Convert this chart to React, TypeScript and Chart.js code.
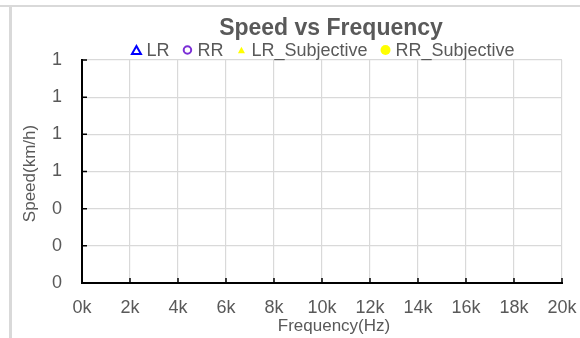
import React, { useEffect, useRef } from "react";
import { Chart, registerables } from "chart.js";

Chart.register(...registerables);

// Axis ranges and tick spacing
const frequencyMin = 0;
const frequencyMax = 20000;
const frequencyStep = 2000;
const speedMin = 0;
const speedMax = 1.2;
const speedStep = 0.2;

// Text
const chartTitle = "Speed vs Frequency";
const xAxisTitle = "Frequency(Hz)";
const yAxisTitle = "Speed(km/h)";

// Series (no measured points recorded yet)
const seriesNames = ["LR", "RR", "LR_Subjective", "RR_Subjective"];
const lrPoints: { x: number; y: number }[] = [];
const rrPoints: { x: number; y: number }[] = [];
const lrSubjectivePoints: { x: number; y: number }[] = [];
const rrSubjectivePoints: { x: number; y: number }[] = [];

const FONT = "'Liberation Sans', Arial, sans-serif";
const TEXT = "#595959";
const GRID = "#d9d9d9";
const TEXT_CENTER_X = 331;

function drawMarker(
  ctx: CanvasRenderingContext2D,
  style: string,
  cx: number,
  cy: number,
  size: number,
  fill: string,
  stroke: string,
  lineWidth: number,
  filled: boolean
) {
  ctx.beginPath();
  if (style === "triangle") {
    const h = size * 0.9;
    ctx.moveTo(cx, cy - h / 2);
    ctx.lineTo(cx + size / 2, cy + h / 2);
    ctx.lineTo(cx - size / 2, cy + h / 2);
    ctx.closePath();
  } else {
    ctx.arc(cx, cy, size / 2, 0, Math.PI * 2);
  }
  if (filled) {
    ctx.fillStyle = fill;
    ctx.fill();
  } else {
    ctx.lineWidth = lineWidth;
    ctx.strokeStyle = stroke;
    ctx.stroke();
  }
}

// Title, legend and axis titles
const chartTextPlugin = {
  id: "chartText",
  afterDraw(chart: any) {
    const { ctx, chartArea } = chart;
    ctx.save();
    ctx.fillStyle = TEXT;
    ctx.textBaseline = "alphabetic";

    // chart title
    ctx.font = `bold 23px ${FONT}`;
    ctx.textAlign = "center";
    ctx.fillText(chartTitle, TEXT_CENTER_X, 35);

    // legend
    ctx.font = `18px ${FONT}`;
    ctx.textAlign = "left";
    const datasets = chart.data.datasets;
    const markerToText = 10;
    const itemGap = 18;
    const widths = datasets.map((d: any) => ctx.measureText(d.label).width);
    let total = 0;
    widths.forEach((w: number, i: number) => {
      total += 5 + markerToText + w + (i < widths.length - 1 ? itemGap : 0);
    });
    let x = TEXT_CENTER_X - total / 2;
    datasets.forEach((d: any, i: number) => {
      const mx = x + 4.5;
      drawMarker(
        ctx,
        d.pointStyle,
        mx,
        50,
        d.legendMarkerSize,
        d.pointBackgroundColor,
        d.pointBorderColor,
        2,
        d.legendFilled
      );
      ctx.fillStyle = TEXT;
      ctx.fillText(d.label, mx + markerToText, 56);
      x = mx + markerToText + widths[i] + itemGap - 4.5;
    });

    // x axis title
    ctx.font = `17px ${FONT}`;
    ctx.textAlign = "center";
    ctx.fillText(xAxisTitle, (chartArea.left + chartArea.right) / 2 + 12, 331);

    // y axis title
    ctx.font = `17px ${FONT}`;
    ctx.translate(35, (chartArea.top + chartArea.bottom) / 2 + 2);
    ctx.rotate(-Math.PI / 2);
    ctx.textAlign = "center";
    ctx.fillText(yAxisTitle, 0, 0);
    ctx.restore();
  },
};

// Black axis lines with short ticks pointing into the plot
const innerAxisPlugin = {
  id: "innerAxis",
  afterDatasetsDraw(chart: any) {
    const { ctx, chartArea } = chart;
    const { left, right, top, bottom } = chartArea;
    const xs = chart.scales.x;
    const ys = chart.scales.y;
    const tick = 5;
    ctx.save();
    ctx.strokeStyle = "#000";
    ctx.lineWidth = 2;
    ctx.beginPath();
    ctx.moveTo(left, top - 1);
    ctx.lineTo(left, bottom);
    ctx.lineTo(right + 1, bottom);
    ctx.stroke();
    ctx.lineWidth = 1.5;
    ctx.beginPath();
    xs.ticks.forEach((t: any) => {
      const px = xs.getPixelForValue(t.value);
      ctx.moveTo(px, bottom);
      ctx.lineTo(px, bottom - tick);
    });
    ys.ticks.forEach((t: any) => {
      const py = ys.getPixelForValue(t.value);
      ctx.moveTo(left, py);
      ctx.lineTo(left + tick, py);
    });
    ctx.stroke();
    ctx.restore();
  },
};

export default function App() {
  const canvasRef = useRef<HTMLCanvasElement | null>(null);

  useEffect(() => {
    if (!canvasRef.current) return;
    const chart = new Chart(canvasRef.current, {
      type: "scatter",
      data: {
        datasets: [
          {
            label: seriesNames[0],
            data: lrPoints,
            pointStyle: "triangle",
            pointBackgroundColor: "#ffffff",
            pointBorderColor: "#0000ff",
            pointBorderWidth: 2,
            pointRadius: 4,
            legendMarkerSize: 9,
            legendFilled: false,
          },
          {
            label: seriesNames[1],
            data: rrPoints,
            pointStyle: "circle",
            pointBackgroundColor: "#ffffff",
            pointBorderColor: "#7b2fd6",
            pointBorderWidth: 2,
            pointRadius: 4,
            legendMarkerSize: 7.5,
            legendFilled: false,
          },
          {
            label: seriesNames[2],
            data: lrSubjectivePoints,
            pointStyle: "triangle",
            pointBackgroundColor: "#ffff00",
            pointBorderColor: "#ffff00",
            pointBorderWidth: 1,
            pointRadius: 4,
            legendMarkerSize: 7,
            legendFilled: true,
          },
          {
            label: seriesNames[3],
            data: rrSubjectivePoints,
            pointStyle: "circle",
            pointBackgroundColor: "#ffff00",
            pointBorderColor: "#ffff00",
            pointBorderWidth: 1,
            pointRadius: 4,
            legendMarkerSize: 10,
            legendFilled: true,
          },
        ] as any,
      },
      options: {
        responsive: false,
        animation: false,
        layout: { padding: { left: 12, right: 18, top: 60, bottom: 0 } },
        plugins: {
          tooltip: { enabled: false },
          title: { display: false },
          legend: { display: false },
        },
        scales: {
          x: {
            type: "linear",
            min: frequencyMin,
            max: frequencyMax,
            afterFit: (s: any) => {
              s.height = 55;
              s.paddingLeft = 0;
              s.paddingRight = 0;
            },
            ticks: {
              stepSize: frequencyStep,
              color: TEXT,
              padding: 14,
              font: { family: FONT, size: 18 },
              maxRotation: 0,
              callback: (v: any) => `${Number(v) / 1000}k`,
            },
            grid: { color: GRID, lineWidth: 1.2, drawTicks: false },
            border: { display: false },
          },
          y: {
            type: "linear",
            min: speedMin,
            max: speedMax,
            afterFit: (s: any) => {
              s.width = 70;
              s.paddingTop = 0;
              s.paddingBottom = 0;
            },
            ticks: {
              stepSize: speedStep,
              color: TEXT,
              padding: 20,
              font: { family: FONT, size: 18 },
              callback: (v: any) => `${Math.round(Number(v))}`,
            },
            grid: { color: GRID, lineWidth: 1.2, drawTicks: false },
            border: { display: false },
          },
        },
      },
      plugins: [innerAxisPlugin, chartTextPlugin],
    });
    return () => chart.destroy();
  }, []);

  return (
    <div
      style={{
        position: "absolute",
        left: 0,
        top: 0,
        width: 580,
        height: 338,
        background: "#fff",
        overflow: "hidden",
      }}
    >
      <div
        style={{
          position: "absolute",
          left: 0,
          top: 5,
          width: 580,
          height: 2,
          background: GRID,
        }}
      />
      <div
        style={{
          position: "absolute",
          left: 9,
          top: 7,
          width: 3,
          height: 331,
          background: GRID,
        }}
      />
      <canvas
        ref={canvasRef}
        width={580}
        height={338}
        style={{ position: "absolute", left: 0, top: 0 }}
      />
    </div>
  );
}
